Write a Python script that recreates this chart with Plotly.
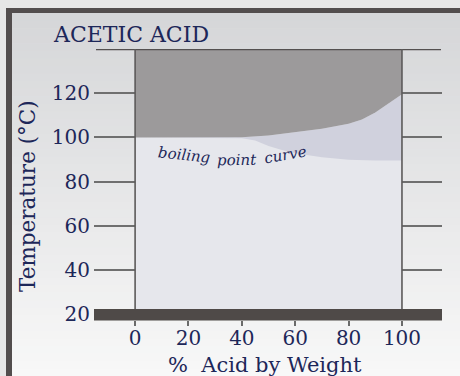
import plotly.graph_objects as go

# ---- data ----
x_upper = [0, 10, 20, 30, 40, 50, 60, 70, 80, 85, 90, 95, 100]
y_upper = [100, 100, 100, 100, 100.1, 100.9, 102.4, 103.9, 106.2, 108.1, 111.3, 115.2, 119.5]
x_lower = [0, 10, 20, 30, 36, 40, 45, 50, 55, 60, 70, 80, 90, 100]
y_lower = [100, 100, 100, 100, 100, 99.7, 98.6, 96.1, 94.4, 92.9, 91.1, 89.9, 89.6, 89.6]
x_ticks = [0, 20, 40, 60, 80, 100]
y_ticks = [20, 40, 60, 80, 100, 120]
y_top = 140
x_rng = [-15.4, 115]
y_rng = [17.5, 140]

NAVY = "#1d2759"
FONT = "DejaVu Serif"

# plot area in pixels
L, T, R, B = 94, 49, 442, 320
W, H = 460, 376


def px(xp):
    return (xp - L) / (R - L)


def py(yp):
    return (B - yp) / (B - T)


fig = go.Figure()
# base light region
fig.add_trace(go.Scatter(x=[x_ticks[0], x_ticks[-1]], y=[y_top, y_top], fill="tozeroy",
                         fillcolor="#e6e7ec", line=dict(width=0), mode="lines",
                         hoverinfo="skip", showlegend=False))
# lavender between curves
fig.add_trace(go.Scatter(x=x_lower, y=y_lower, mode="lines", line=dict(width=0),
                         hoverinfo="skip", showlegend=False))
fig.add_trace(go.Scatter(x=x_upper, y=y_upper, mode="lines", line=dict(width=0),
                         fill="tonexty", fillcolor="#d0d1dd",
                         hoverinfo="skip", showlegend=False))
# dark vapor region above upper curve
fig.add_trace(go.Scatter(x=x_upper, y=[y_top] * len(x_upper), mode="lines", line=dict(width=0),
                         fill="tonexty", fillcolor="#9c9a9b",
                         hoverinfo="skip", showlegend=False))

shapes = []
# panel gradient
n = 48
y0p, y1p = 13, 376
c0, c1 = (213, 214, 216), (248, 248, 248)
for i in range(n):
    a = y0p + (y1p - y0p) * i / n
    b = y0p + (y1p - y0p) * (i + 1) / n + 0.6
    t = (i + 0.5) / n
    col = "rgb(%d,%d,%d)" % tuple(round(c0[k] + (c1[k] - c0[k]) * t) for k in range(3))
    shapes.append(dict(type="rect", xref="paper", yref="paper", x0=px(12), x1=px(461),
                       y0=py(b), y1=py(a), fillcolor=col, line=dict(width=0), layer="below"))
# border left and top
shapes.append(dict(type="rect", xref="paper", yref="paper", x0=px(6), x1=px(12), y0=py(377), y1=py(8),
                   fillcolor="#524d4d", line=dict(width=0), layer="below"))
shapes.append(dict(type="rect", xref="paper", yref="paper", x0=px(6), x1=px(461), y0=py(13), y1=py(8),
                   fillcolor="#524d4d", line=dict(width=0), layer="below"))
# top line
shapes.append(dict(type="line", xref="paper", yref="y", x0=px(96), x1=px(441), y0=y_top, y1=y_top,
                   line=dict(color="#545050", width=2.5), layer="above"))
# vertical lines at 0 and 100
for xv in (x_ticks[0], x_ticks[-1]):
    shapes.append(dict(type="line", xref="x", yref="paper", x0=xv, x1=xv, y0=py(309), y1=1,
                       line=dict(color="#5c5a5a", width=1.6), layer="above"))
# bottom bar
shapes.append(dict(type="rect", xref="paper", yref="paper", x0=0, x1=1, y0=py(320.5), y1=py(309),
                   fillcolor="#4f4a48", line=dict(width=0), layer="above"))

annotations = [
    dict(text="ACETIC ACID", x=px(51), y=py(34), xref="paper", yref="paper", xanchor="left",
         yanchor="middle", showarrow=False, font=dict(family=FONT, size=22, color=NAVY)),
    dict(text="Temperature (°C)", x=px(27), y=py(196), xref="paper", yref="paper", textangle=-90,
         xanchor="center", yanchor="middle", showarrow=False, font=dict(family=FONT, size=21.5, color=NAVY)),
    dict(text="%  Acid by Weight", x=px(265), y=py(365), xref="paper", yref="paper",
         xanchor="center", yanchor="middle", showarrow=False, font=dict(family=FONT, size=21, color=NAVY)),
    dict(text="<i>boiling</i>", x=px(184), y=py(155), xref="paper", yref="paper", textangle=6,
         xanchor="center", yanchor="middle", showarrow=False, font=dict(family=FONT, size=15, color=NAVY)),
    dict(text="<i>point</i>", x=px(237), y=py(160), xref="paper", yref="paper", textangle=-1,
         xanchor="center", yanchor="middle", showarrow=False, font=dict(family=FONT, size=15, color=NAVY)),
    dict(text="<i>curve</i>", x=px(285), y=py(155), xref="paper", yref="paper", textangle=-10,
         xanchor="center", yanchor="middle", showarrow=False, font=dict(family=FONT, size=15, color=NAVY)),
]

fig.update_layout(
    width=W, height=H,
    margin=dict(l=L, r=W - R, t=T, b=H - B),
    paper_bgcolor="#e6e6e6",
    plot_bgcolor="rgba(0,0,0,0)",
    shapes=shapes,
    annotations=annotations,
    showlegend=False,
    xaxis=dict(range=x_rng, tickvals=x_ticks, ticktext=[str(v) for v in x_ticks],
               showgrid=False, zeroline=False, showline=False,
               ticks="outside", ticklen=5, tickwidth=1.5, tickcolor="#6a6a6a",
               ticklabelstandoff=-5,
               tickfont=dict(family=FONT, size=20, color=NAVY), fixedrange=True),
    yaxis=dict(range=y_rng, tickvals=y_ticks, ticktext=[str(v) for v in y_ticks],
               showgrid=True, gridcolor="#6f6f6f", gridwidth=1.5,
               zeroline=False, showline=False, ticks="", ticklabelstandoff=3,
               tickfont=dict(family=FONT, size=20, color=NAVY), fixedrange=True),
)

fig.write_html("out.html", config={"displayModeBar": False},
               post_script="document.body.style.margin='0';document.body.style.overflow='hidden';")
